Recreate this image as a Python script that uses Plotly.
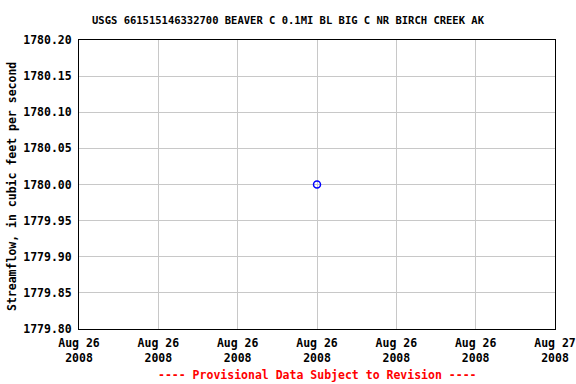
import plotly.graph_objects as go

# Data
dates = ["2008-08-26 12:00"]
flow_cfs = [1780.00]

tick_dates = ["2008-08-26 00:00", "2008-08-26 04:00", "2008-08-26 08:00", "2008-08-26 12:00",
              "2008-08-26 16:00", "2008-08-26 20:00", "2008-08-27 00:00"]
tick_labels = ["Aug 26<br>2008", "Aug 26<br>2008", "Aug 26<br>2008", "Aug 26<br>2008",
               "Aug 26<br>2008", "Aug 26<br>2008", "Aug 27<br>2008"]
y_ticks = [1779.80, 1779.85, 1779.90, 1779.95, 1780.00, 1780.05, 1780.10, 1780.15, 1780.20]

title_text = "USGS 661515146332700 BEAVER C 0.1MI BL BIG C NR BIRCH CREEK AK"
y_title = "Streamflow, in cubic feet per second"
footer_text = "---- Provisional Data Subject to Revision ----"

FONT = "DejaVu Sans Mono"
W, H, L, R, T, B = 576, 384, 79, 21, 40, 55
plot_w = W - L - R
plot_h = H - T - B

fig = go.Figure()
fig.add_trace(go.Scatter(
    x=dates, y=flow_cfs, mode="markers",
    marker=dict(symbol="circle-open", size=7, color="#0000ff", line=dict(width=1.5, color="#0000ff")),
    showlegend=False, hoverinfo="skip",
))

fig.update_layout(
    width=W, height=H,
    margin=dict(l=L, r=R, t=T, b=B, autoexpand=False),
    paper_bgcolor="white", plot_bgcolor="white",
    font=dict(family=FONT, size=11.5, color="black"),
    title=dict(text="<b>" + title_text + "</b>", x=0.5, xanchor="center", xref="container",
               y=1 - 20 / H, yanchor="middle", font=dict(family=FONT, size=10.5, color="black")),
    xaxis=dict(
        type="date", range=[tick_dates[0], tick_dates[-1]], automargin=False,
        tickvals=tick_dates, ticktext=["<b>" + t.replace("<br>", "</b><br><b>") + "</b>" for t in tick_labels],
        showgrid=True, gridcolor="#c8c8c8", gridwidth=1,
        showline=True, linecolor="black", linewidth=1, mirror=True,
        ticks="", zeroline=False, tickfont=dict(family=FONT, size=11.5),
        ticklabelstandoff=3,
    ),
    yaxis=dict(
        range=[1779.80, 1780.20], tickvals=y_ticks, automargin=False,
        ticktext=["<b>%.2f</b>" % v for v in y_ticks],
        showgrid=True, gridcolor="#c8c8c8", gridwidth=1,
        showline=True, linecolor="black", linewidth=1, mirror=True,
        ticks="", zeroline=False, tickfont=dict(family=FONT, size=11.5),
        ticklabelstandoff=4,
    ),
    annotations=[
        dict(
            text="<b>" + y_title + "</b>", textangle=-90,
            x=(12 - L) / plot_w, xref="paper", y=(H - B - 187) / plot_h, yref="paper",
            xanchor="center", yanchor="middle", showarrow=False,
            font=dict(family=FONT, size=11.5, color="black"),
        ),
        dict(
            text="<b>" + footer_text + "</b>", x=0.5, xref="paper", y=(9 - B) / plot_h, yref="paper",
            xanchor="center", yanchor="middle", showarrow=False,
            font=dict(family=FONT, size=11.5, color="red"),
        ),
    ],
)

fig.write_html("out.html", config={"displayModeBar": False},
               post_script="document.body.style.margin='0';document.body.style.overflow='hidden';")
